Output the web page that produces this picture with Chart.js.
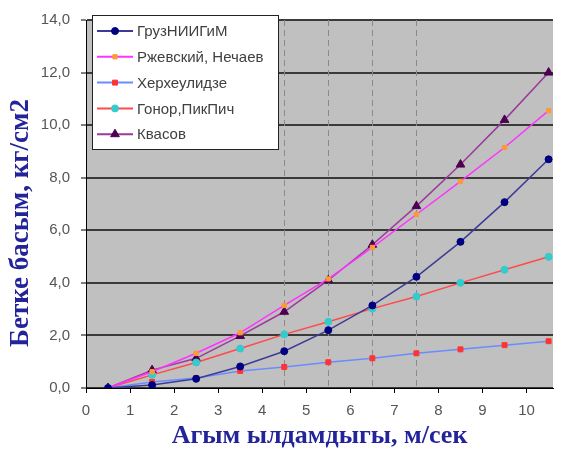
<!DOCTYPE html>
<html>
<head>
<meta charset="utf-8">
<script src="https://cdn.jsdelivr.net/npm/chart.js@4.4.0/dist/chart.umd.min.js"></script>
<style>
  body { margin: 0; background: #fff; }
</style>
</head>
<body>
<canvas id="myChart" width="569" height="449"></canvas>
<script>
// скорость потока, м/сек
var xValues = [0.5, 1.5, 2.5, 3.5, 4.5, 5.5, 6.5, 7.5, 8.5, 9.5, 10.5];

var seriesNames = ["ГрузНИИГиМ", "Ржевский, Нечаев", "Херхеулидзе", "Гонор,ПикПич", "Квасов"];
var gruzValues  = [0, 0.11, 0.35, 0.82, 1.4, 2.2, 3.14, 4.23, 5.56, 7.07, 8.7];
var rzhevValues = [0, 0.62, 1.32, 2.1, 3.14, 4.15, 5.35, 6.6, 7.86, 9.15, 10.55];
var kherValues  = [0, 0.23, 0.38, 0.65, 0.8, 0.98, 1.13, 1.32, 1.47, 1.63, 1.78];
var gonorValues = [0, 0.5, 0.97, 1.5, 2.04, 2.52, 3.02, 3.48, 4.0, 4.5, 4.99];
var kvasValues  = [0, 0.68, 1.13, 1.98, 2.9, 4.1, 5.45, 6.92, 8.5, 10.2, 12.0];

var yTicks = [0, 2, 4, 6, 8, 10, 12, 14];
var xTicks = [0, 1, 2, 3, 4, 5, 6, 7, 8, 9, 10];
var dashedX = [4.5, 5.5, 6.5, 7.5];

var lineColors   = ["#3c3c96", "#ff33ff", "#6a8cff", "#ff4a4a", "#9b3a9b"];
var markerColors = ["#000080", "#ff9933", "#ff3333", "#33cccc", "#4b0050"];
var markerStyles = ["circle", "rect", "rect", "circle", "triangle"];
var markerSizes  = [3.5, 3, 3.5, 3.5, 5];

function toPoints(vals) {
  return vals.map(function (v, i) { return {x: xValues[i], y: v}; });
}

var allValues = [gruzValues, rzhevValues, kherValues, gonorValues, kvasValues];
var datasets = allValues.map(function (vals, i) {
  return {
    label: seriesNames[i],
    data: toPoints(vals),
    borderColor: lineColors[i],
    borderWidth: 1.5,
    backgroundColor: markerColors[i],
    pointBackgroundColor: markerColors[i],
    pointBorderColor: markerColors[i],
    pointBorderWidth: 1,
    pointStyle: markerStyles[i],
    pointRadius: markerSizes[i],
    tension: 0
  };
});

// серый фон области построения
const plotBg = {
  id: 'plotBg',
  beforeDraw(chart) {
    const a = chart.chartArea, ctx = chart.ctx;
    ctx.save();
    ctx.fillStyle = '#c0c0c0';
    ctx.fillRect(a.left, a.top, a.right - a.left, a.bottom - a.top);
    ctx.restore();
  }
};

// пунктирные вертикальные линии
const dashLines = {
  id: 'dashLines',
  beforeDatasetsDraw(chart) {
    const a = chart.chartArea, ctx = chart.ctx, xs = chart.scales.x;
    ctx.save();
    ctx.strokeStyle = '#8a8a8a';
    ctx.lineWidth = 1;
    ctx.setLineDash([6, 4]);
    dashedX.forEach(function (v) {
      const px = Math.round(xs.getPixelForValue(v)) + 0.5;
      ctx.beginPath();
      ctx.moveTo(px, a.top);
      ctx.lineTo(px, a.bottom);
      ctx.stroke();
    });
    ctx.restore();
  }
};

// легенда в рамке и подпись оси Y
const boxLegend = {
  id: 'boxLegend',
  afterDraw(chart) {
    const ctx = chart.ctx;
    const bx = 92, by = 15, bw = 186, bh = 134;
    ctx.save();
    ctx.fillStyle = '#fff';
    ctx.fillRect(bx, by, bw, bh);
    ctx.strokeStyle = '#222';
    ctx.lineWidth = 1;
    ctx.strokeRect(bx + 0.5, by + 0.5, bw, bh);
    ctx.font = '15px "Liberation Sans", Arial, sans-serif';
    ctx.textBaseline = 'middle';
    chart.data.datasets.forEach(function (ds, i) {
      const y = by + 16 + i * 25.8;
      ctx.strokeStyle = ds.borderColor;
      ctx.lineWidth = 2;
      ctx.beginPath();
      ctx.moveTo(bx + 5, y);
      ctx.lineTo(bx + 41, y);
      ctx.stroke();
      ctx.lineWidth = 1;
      ctx.fillStyle = ds.pointBackgroundColor;
      ctx.strokeStyle = ds.pointBorderColor;
      Chart.helpers.drawPoint(ctx, {
        pointStyle: ds.pointStyle,
        radius: ds.pointRadius,
        borderWidth: 1
      }, bx + 23, y);
      ctx.fillStyle = '#404040';
      ctx.fillText(ds.label, bx + 45, y + 1);
    });

    // подпись оси Y
    ctx.translate(21, 223);
    ctx.rotate(-Math.PI / 2);
    ctx.fillStyle = '#23239a';
    ctx.font = 'bold 27px "Liberation Serif", "Times New Roman", serif';
    ctx.textAlign = 'center';
    ctx.textBaseline = 'middle';
    ctx.fillText('Бетке басым, кг/см2', 0, 0);
    ctx.restore();
  }
};

new Chart("myChart", {
  type: "line",
  data: { datasets: datasets },
  plugins: [plotBg, dashLines, boxLegend],
  options: {
    responsive: false,
    animation: false,
    layout: { padding: { top: 16, right: 16, left: 0, bottom: 0 } },
    plugins: {
      legend: { display: false },
      tooltip: { enabled: false }
    },
    scales: {
      x: {
        type: 'linear',
        min: 0,
        max: 10.6,
        afterFit: function (s) { s.height = 61; },
        afterBuildTicks: function (s) {
          s.ticks = xTicks.map(function (v) { return {value: v}; });
        },
        grid: {
          drawOnChartArea: false,
          drawTicks: true,
          tickLength: 5,
          tickColor: '#000'
        },
        border: { color: '#000', width: 1 },
        ticks: {
          padding: 9,
          color: '#555',
          font: { family: '"Liberation Sans", Arial, sans-serif', size: 15 }
        },
        title: {
          display: true,
          text: 'Агым ылдамдыгы, м/сек',
          color: '#23239a',
          padding: { top: 0, bottom: 0 },
          font: { family: '"Liberation Serif", "Times New Roman", serif', size: 26, weight: 'bold', lineHeight: 1 }
        }
      },
      y: {
        min: 0,
        max: 14,
        afterFit: function (s) { s.width = 86; },
        afterBuildTicks: function (s) {
          s.ticks = yTicks.map(function (v) { return {value: v}; });
        },
        grid: {
          color: '#3a3a3a',
          lineWidth: 2,
          drawTicks: true,
          tickLength: 5,
          tickColor: '#000',
          tickWidth: 1
        },
        border: { color: '#000', width: 1 },
        ticks: {
          padding: 11,
          color: '#555',
          font: { family: '"Liberation Sans", Arial, sans-serif', size: 15 },
          callback: function (v) { return v.toFixed(1).replace('.', ','); }
        }
      }
    }
  }
});
</script>
</body>
</html>
